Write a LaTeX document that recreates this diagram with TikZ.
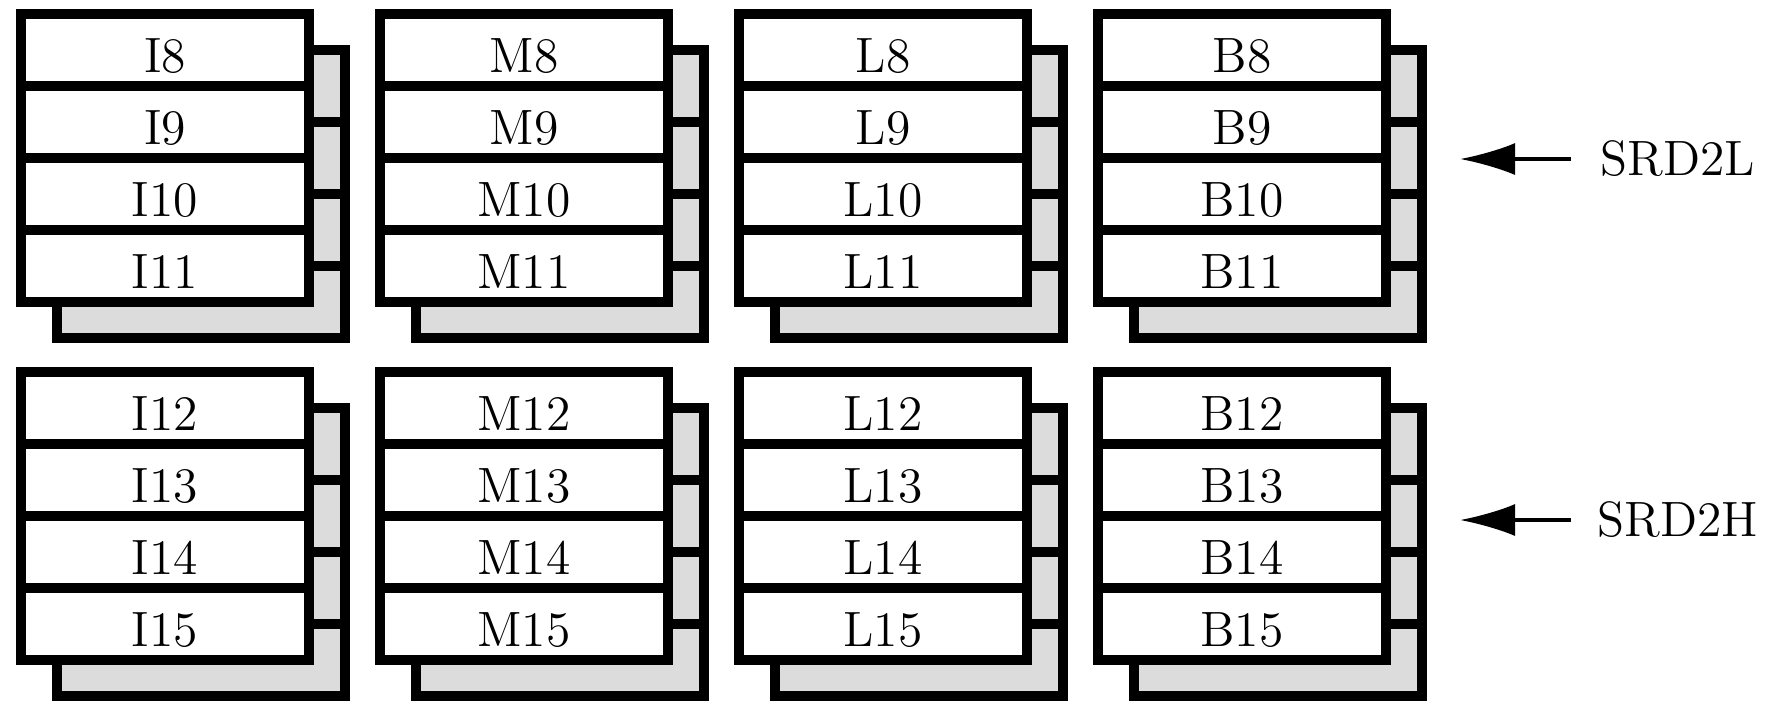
\documentclass[tikz,border=0pt]{standalone}
\usetikzlibrary{arrows.meta}
\definecolor{backgray}{gray}{0.863}
\tikzset{
  frontcell/.style={draw,fill=white,line width=2.5pt,outer sep=0pt,inner sep=0pt,
    minimum width=72pt,minimum height=18pt,anchor=north west,
    text height=11pt,text depth=0pt,font=\fontsize{12.4}{14}\selectfont},
  backcell/.style={frontcell,fill=backgray},
  srdlabel/.style={inner sep=0pt,minimum width=53pt,font=\fontsize{12.4}{14}\selectfont},
  srdarrow/.style={line width=0.8pt,-{Latex[length=13.75pt,width=8pt]}},
}
\begin{document}
\begin{tikzpicture}[x=0.25pt,y=-0.25pt]
  \useasboundingbox (0,0) rectangle (1776,700);
  \foreach \c [count=\i from 0] in {I,M,L,B}
    \foreach \j in {0,1} {
      \pgfmathsetmacro\xa{21+359*\i}
      \pgfmathsetmacro\ya{14+358*\j}
      \foreach \m in {0,...,3} {
        \pgfmathtruncatemacro\n{8+4*\j+\m}
        \node[backcell] (\c\n b) at (\xa+36,\ya+36+72*\m) {};
      }
      \foreach \m in {0,...,3} {
        \pgfmathtruncatemacro\n{8+4*\j+\m}
        \node[frontcell] (\c\n) at (\xa,\ya+72*\m) {\c\n};
      }
    }
  \path
  (1460,159) coordinate (tipL)
  (1460,520) coordinate (tipH)
  ;
  \node[srdlabel] (SRD2L) at (1678,159) {SRD2L};
  \node[srdlabel] (SRD2H) at (1678,520) {SRD2H};
  \draw[srdarrow] (SRD2L.west) -- (tipL);
  \draw[srdarrow] (SRD2H.west) -- (tipH);
\end{tikzpicture}
\end{document}
